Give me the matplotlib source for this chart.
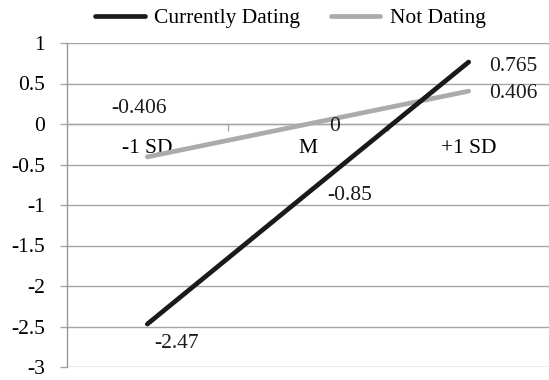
import matplotlib
matplotlib.use("Agg")
import matplotlib.pyplot as plt
from matplotlib.ticker import FixedLocator

plt.rcParams['font.family'] = ['Liberation Serif', 'DejaVu Serif']

categories = ["-1 SD", "M", "+1 SD"]
dating = [-2.47, -0.85, 0.765]
not_dating = [-0.406, 0, 0.406]
dating_labels = ["-2.47", "-0.85", "0.765"]
not_dating_labels = ["-0.406", "0", "0.406"]

FS = 15.5
fig = plt.figure(figsize=(5.49, 3.80), dpi=100)
ax = fig.add_axes([67/549, 1-367/380, 1-67/549, (367-43)/380])

x = list(range(len(categories)))
l1, = ax.plot(x, dating, color='#1a1a1a', lw=3.4, solid_capstyle='round', zorder=4, label='Currently Dating')
l2, = ax.plot(x, not_dating, color='#ababab', lw=3.4, solid_capstyle='round', zorder=3, label='Not Dating')

ax.set_xlim(-0.5, 2.5)
ax.set_ylim(-3, 1)
ax.set_yticks([1, 0.5, 0, -0.5, -1, -1.5, -2, -2.5, -3])
ax.set_yticklabels(["1", "0.5", "0", "-0.5", "-1", "-1.5", "-2", "-2.5", "-3"], fontsize=FS)
ax.grid(axis='y', color='#a6a6a6', lw=1.0, zorder=0)
ax.tick_params(axis='y', length=5, color='#a6a6a6', width=1.0, pad=11)

for s in ['top', 'right']:
    ax.spines[s].set_visible(False)
ax.spines['left'].set_color('#999999')
ax.spines['left'].set_linewidth(1.0)
ax.spines['bottom'].set_position(('data', 0))
ax.spines['bottom'].set_color('#a6a6a6')
ax.spines['bottom'].set_linewidth(1.0)

ax.xaxis.set_major_locator(FixedLocator(x))
ax.set_xticklabels(categories, fontsize=FS)
ax.xaxis.set_minor_locator(FixedLocator([0.5, 1.5]))
ax.tick_params(axis='x', which='major', length=0, pad=11)
ax.tick_params(axis='x', which='minor', length=5, direction='out', color='#a6a6a6', width=1.0)

# data labels (offsets in points)
d_off = [((5, -14), 'left'), ((14, -2), 'left'), ((15, -3), 'left')]
n_off = [((-6, 35), 'center'), ((15, -2), 'left'), ((15, -2), 'left')]
for xi, v, lab, (off, ha) in zip(x, dating, dating_labels, d_off):
    ax.annotate(lab, (xi, v), xytext=off, textcoords='offset points', ha=ha, va='center', fontsize=FS, color='#1a1a1a')
for xi, v, lab, (off, ha) in zip(x, not_dating, not_dating_labels, n_off):
    ax.annotate(lab, (xi, v), xytext=off, textcoords='offset points', ha=ha, va='center', fontsize=FS, color='#1a1a1a')

fig.legend(handles=[l1, l2], loc='center', bbox_to_anchor=(0.529, 1-18/380), ncol=2, frameon=False,
           fontsize=FS, handlelength=2.3, handletextpad=0.45, columnspacing=1.4, borderpad=0)

fig.savefig("out.png", dpi=100)
